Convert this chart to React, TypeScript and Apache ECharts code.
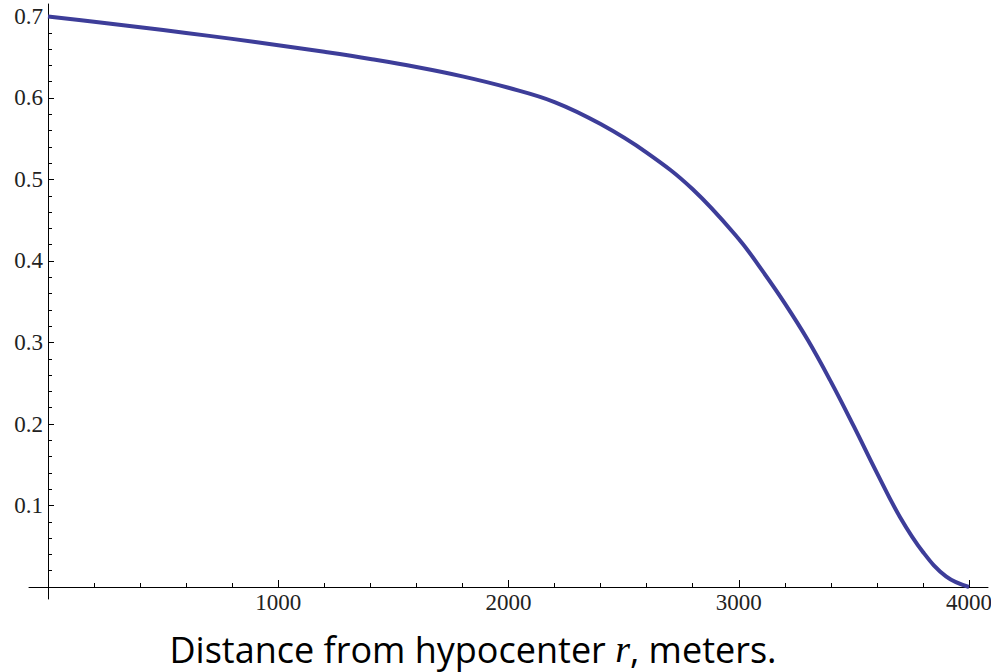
import React, { useEffect, useRef } from "react";
import * as echarts from "echarts";

const distance = [0, 200, 400, 600, 800, 1000, 1200, 1400, 1600, 1800, 2000, 2200, 2400, 2600, 2800, 3000, 3100, 3200, 3300, 3400, 3500, 3600, 3700, 3800, 3900, 4000];
const values = [0.7, 0.6935, 0.6868, 0.6798, 0.6725, 0.6648, 0.6566, 0.6478, 0.638, 0.6265, 0.6125, 0.595, 0.568, 0.533, 0.488, 0.427, 0.389, 0.348, 0.303, 0.252, 0.197, 0.14, 0.086, 0.043, 0.013, 0];

const xMajorTicks = [1000, 2000, 3000, 4000];
const xMinorTicks = [200, 400, 600, 800, 1200, 1400, 1600, 1800, 2200, 2400, 2600, 2800, 3200, 3400, 3600, 3800];
const yMajorTicks = [0.1, 0.2, 0.3, 0.4, 0.5, 0.6, 0.7];
const yMinorTicks = [0.02, 0.04, 0.06, 0.08, 0.12, 0.14, 0.16, 0.18, 0.22, 0.24, 0.26, 0.28, 0.32, 0.34, 0.36, 0.38, 0.42, 0.44, 0.46, 0.48, 0.52, 0.54, 0.56, 0.58, 0.62, 0.64, 0.66, 0.68];

const titleText = "Distance from hypocenter ";
const titleVar = "r";
const titleTail = ", meters.";

export default function App() {
  const ref = useRef<HTMLDivElement>(null);
  useEffect(() => {
    if (!ref.current) return;
    const chart = echarts.init(ref.current, null, { renderer: "svg" });
    const axisColor = "#000";
    const labelFont = {
      fontFamily: "'Liberation Serif', 'DejaVu Serif', serif",
      fontSize: 23,
      color: "#222",
    };
    const xMin = -82.5;
    const xMax = 4082.5;
    const yMin = -0.0147;
    const yMax = 0.7153;
    const xOff = -12;
    const yOff = -19;
    chart.setOption({
      animation: false,
      backgroundColor: "#fff",
      grid: { left: 29, right: 3, top: 4, bottom: 73, containLabel: false, outerBoundsMode: "none" },
      xAxis: [
        {
          type: "value",
          position: "bottom",
          offset: xOff,
          min: xMin,
          max: xMax,
          axisLine: { show: true, onZero: false, lineStyle: { color: axisColor, width: 1 } },
          axisTick: { show: true, inside: true, length: 7, customValues: xMajorTicks, lineStyle: { color: axisColor } },
          axisLabel: { show: true, customValues: xMajorTicks, margin: 4, formatter: (v: number) => String(Math.round(v)), ...labelFont },
          splitLine: { show: false },
        },
        {
          type: "value",
          position: "bottom",
          offset: xOff,
          min: xMin,
          max: xMax,
          axisLine: { show: false, onZero: false },
          axisTick: { show: true, inside: true, length: 4, customValues: xMinorTicks, lineStyle: { color: axisColor } },
          axisLabel: { show: false },
          splitLine: { show: false },
        },
      ],
      yAxis: [
        {
          type: "value",
          position: "left",
          offset: yOff,
          min: yMin,
          max: yMax,
          axisLine: { show: true, onZero: false, lineStyle: { color: axisColor, width: 1 } },
          axisTick: { show: true, inside: true, length: 6, customValues: yMajorTicks, lineStyle: { color: axisColor } },
          axisLabel: { show: true, customValues: yMajorTicks, margin: 5, formatter: (v: number) => String(Math.round(v * 10) / 10), ...labelFont },
          splitLine: { show: false },
        },
        {
          type: "value",
          position: "left",
          offset: yOff,
          min: yMin,
          max: yMax,
          axisLine: { show: false, onZero: false },
          axisTick: { show: true, inside: true, length: 4, customValues: yMinorTicks, lineStyle: { color: axisColor } },
          axisLabel: { show: false },
          splitLine: { show: false },
        },
      ],
      series: [
        {
          type: "line",
          xAxisIndex: 0,
          yAxisIndex: 0,
          data: distance.map((d, i) => [d, values[i]]),
          showSymbol: false,
          smooth: 0.4,
          lineStyle: { color: "#3d3d99", width: 4 },
          z: 3,
        },
      ],
      graphic: [
        {
          type: "text",
          x: 473,
          y: 649,
          style: {
            text: `{a|${titleText}}{r|${titleVar}}{a|${titleTail}}`,
            align: "center",
            verticalAlign: "middle",
            rich: {
              a: { fontFamily: "'Open Sans', Lato, sans-serif", fontSize: 36, fill: "#000" },
              r: { fontFamily: "'Liberation Serif', serif", fontStyle: "italic", fontSize: 38, fill: "#000" },
            },
          },
        },
      ],
    });
    return () => chart.dispose();
  }, []);
  return <div ref={ref} style={{ position: "fixed", left: 0, top: 0, width: 991, height: 672 }} />;
}
